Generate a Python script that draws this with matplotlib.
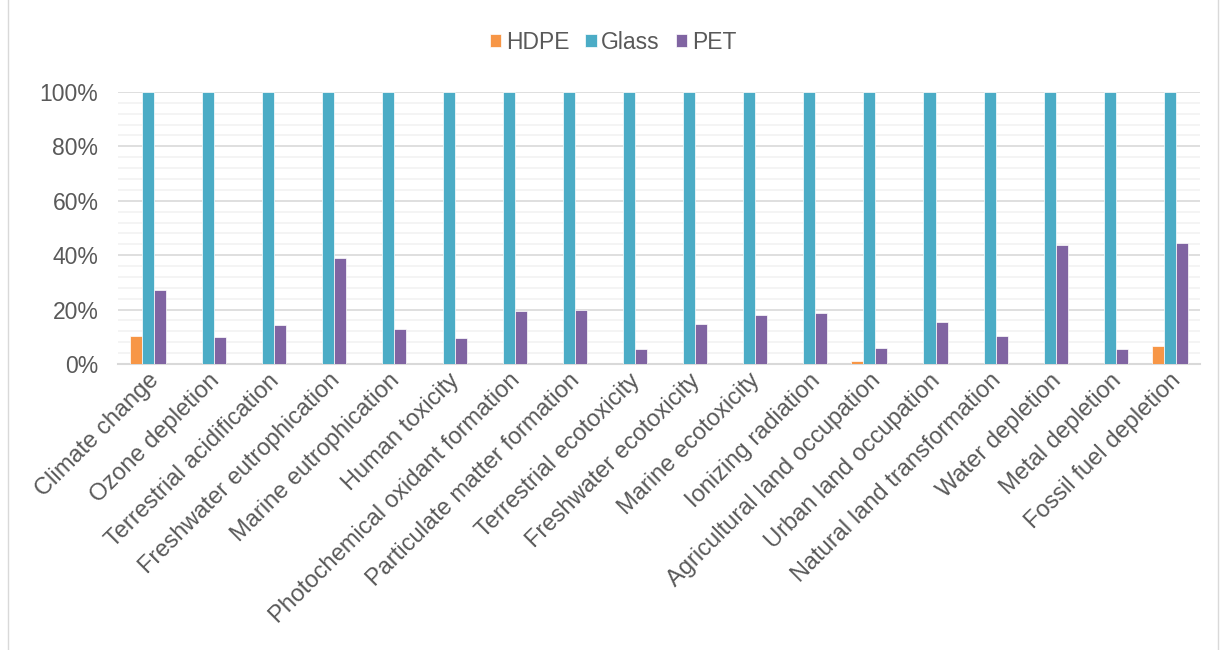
import numpy as np
import matplotlib.pyplot as plt
from matplotlib.patches import Rectangle
from matplotlib.ticker import MultipleLocator, PercentFormatter

plt.rcParams['font.family'] = ['Liberation Sans', 'DejaVu Sans']

categories = ["Climate change", "Ozone depletion", "Terrestrial acidification",
              "Freshwater eutrophication", "Marine eutrophication", "Human toxicity",
              "Photochemical oxidant formation", "Particulate matter formation",
              "Terrestrial ecotoxicity", "Freshwater ecotoxicity", "Marine ecotoxicity",
              "Ionizing radiation", "Agricultural land occupation", "Urban land occupation",
              "Natural land transformation", "Water depletion", "Metal depletion",
              "Fossil fuel depletion"]
hdpe = [10.3, 0, 0, 0, 0, 0, 0, 0, 0, 0, 0, 0, 1.2, 0, 0, 0, 0, 6.5]
glass = [100] * 18
pet = [27.2, 10.0, 14.4, 38.9, 12.7, 9.6, 19.5, 19.9, 5.4, 14.7, 18.0, 18.6,
       5.8, 15.6, 10.4, 43.9, 5.5, 44.5]

fig = plt.figure(figsize=(12.26, 6.5), dpi=100)
ax = fig.add_axes([0.0962, 0.44, 0.8826, 0.4185])
fig.patches.append(Rectangle((8 / 1226, -10 / 650), 1210 / 1226, 667 / 650,
                             transform=fig.transFigure, fill=False,
                             edgecolor='#d9d9d9', linewidth=1))

x = np.arange(len(categories))
w = 0.2
ax.bar(x - w, hdpe, w, color='#F79646', label='HDPE', edgecolor='white', linewidth=0.5, zorder=3)
ax.bar(x, glass, w, color='#4BACC6', label='Glass', edgecolor='white', linewidth=0.5, zorder=3)
ax.bar(x + w, pet, w, color='#8064A2', label='PET', edgecolor='white', linewidth=0.5, zorder=3)

ax.set_xlim(-0.5, len(categories) - 0.5)
ax.set_ylim(0, 100)
ax.yaxis.set_major_locator(MultipleLocator(20))
ax.yaxis.set_minor_locator(MultipleLocator(4))
ax.yaxis.set_major_formatter(PercentFormatter(decimals=0))
ax.grid(which='major', axis='y', color='#d9d9d9', linewidth=1.2, zorder=0)
ax.grid(which='minor', axis='y', color='#f2f2f2', linewidth=1.2, zorder=0)
for s in ['top', 'right', 'left']:
    ax.spines[s].set_visible(False)
ax.spines['bottom'].set_color('#d9d9d9')
ax.spines['bottom'].set_linewidth(1.5)
ax.tick_params(axis='both', which='both', length=0, labelsize=16.5, colors='#595959')
ax.tick_params(axis='y', pad=14)
ax.tick_params(axis='x', labelsize=17, pad=4)
ax.set_xticks(x)
ax.set_xticklabels(categories, rotation=45, ha='right', rotation_mode='anchor')

fig.legend(loc='center', bbox_to_anchor=(0.5, 0.935), ncol=3, frameon=False,
           fontsize=16.5, handlelength=0.5, handleheight=0.5, handletextpad=0.2,
           columnspacing=0.7, labelcolor='#595959')

fig.savefig('out.png', dpi=100)
